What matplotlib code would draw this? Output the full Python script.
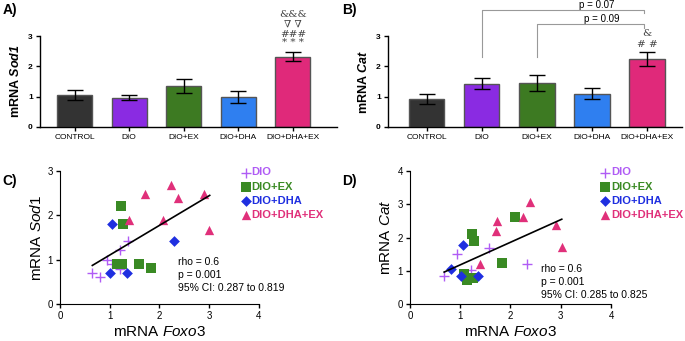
import matplotlib
matplotlib.use("Agg")
import matplotlib.pyplot as plt
import numpy as np

plt.rcParams['font.family'] = 'Liberation Sans'
plt.rcParams['mathtext.fontset'] = 'custom'
plt.rcParams['mathtext.rm'] = 'Liberation Sans'
plt.rcParams['mathtext.it'] = 'Liberation Sans:italic'
plt.rcParams['mathtext.bf'] = 'Liberation Sans:bold'
plt.rcParams['mathtext.bfit'] = 'Liberation Sans:bold:italic'

groups = ['CONTROL', 'DIO', 'DIO+EX', 'DIO+DHA', 'DIO+DHA+EX']
bar_colors = ['#333333', '#8a2be2', '#3d7a22', '#2f7ff0', '#e0297a']

sod1_mean = [1.05, 0.97, 1.35, 0.98, 2.32]
sod1_err = [0.17, 0.08, 0.23, 0.20, 0.14]
cat_mean = [0.92, 1.43, 1.45, 1.10, 2.23]
cat_err = [0.16, 0.19, 0.28, 0.17, 0.23]

# scatter data (Foxo3 vs Sod1)
c_dio_x = [0.65, 0.80, 0.95, 1.20, 1.36, 1.20, 1.05]
c_dio_y = [0.71, 0.61, 0.99, 1.22, 1.41, 0.80, 0.90]
c_ex_x = [1.23, 1.26, 1.14, 1.25, 1.58, 1.82]
c_ex_y = [2.21, 1.80, 0.90, 0.90, 0.90, 0.81]
c_dha_x = [1.04, 2.30, 1.01, 1.34]
c_dha_y = [1.80, 1.41, 0.71, 0.71]
c_dhaex_x = [1.71, 2.24, 2.38, 2.89, 1.38, 2.08, 3.00]
c_dhaex_y = [2.49, 2.69, 2.38, 2.49, 1.89, 1.89, 1.68]
c_fit_x = [0.65, 3.01]
c_fit_y = [0.87, 2.45]

# scatter data (Foxo3 vs Cat)
d_dio_x = [0.68, 0.93, 1.21, 1.58, 2.33]
d_dio_y = [0.83, 1.51, 1.03, 1.68, 1.20]
d_ex_x = [1.24, 1.28, 1.08, 1.14, 1.26, 1.83, 2.09]
d_ex_y = [2.10, 1.90, 0.90, 0.73, 0.78, 1.23, 2.61]
d_dha_x = [1.05, 0.81, 1.02, 1.35]
d_dha_y = [1.76, 1.06, 0.83, 0.85]
d_dhaex_x = [1.73, 1.72, 1.40, 2.25, 2.39, 2.91, 3.02]
d_dhaex_y = [2.50, 2.20, 1.21, 2.63, 3.06, 2.37, 1.71]
d_fit_x = [0.68, 3.02]
d_fit_y = [0.96, 2.55]

fig = plt.figure(figsize=(6.85, 3.41), dpi=100)


def bar_panel(ax, means, errs, ylabel, xlim):
    x = np.arange(len(groups))
    ax.bar(x, means, width=0.64, color=bar_colors, edgecolor='#555555', linewidth=1.0)
    ax.errorbar(x, means, yerr=errs, fmt='none', ecolor='black', elinewidth=1.0,
                capsize=6, capthick=1.0)
    ax.set_xlim(*xlim)
    ax.set_ylim(0, 3)
    ax.set_yticks([0, 1, 2, 3])
    ax.set_xticks(x)
    ax.set_xticklabels(groups, fontsize=6)
    for t in ax.get_yticklabels():
        t.set_fontsize(6)
        t.set_fontweight('bold')
    ax.tick_params(axis='both', length=3, width=1, pad=2)
    ax.spines['top'].set_visible(False)
    ax.spines['right'].set_visible(False)
    ax.spines['left'].set_linewidth(1)
    ax.spines['bottom'].set_linewidth(1)
    ax.set_ylabel(ylabel, fontsize=9, fontweight='bold', labelpad=4)


axA = fig.add_axes([0.058, 0.628, 0.434, 0.266])
bar_panel(axA, sod1_mean, sod1_err, r'mRNA $\mathbfit{Sod1}$', (-0.64, 4.81))
sig_font = dict(family='DejaVu Serif', fontsize=7.5, color='#444444', ha='center', va='center')
axA.text(4, 2.78, '* * *', clip_on=False, **sig_font)
axA.text(4, 3.06, '###', clip_on=False, **sig_font)
axA.text(4, 3.38, '\u2207 \u2207', clip_on=False, **sig_font)
axA.text(4, 3.72, '&&&', clip_on=False, **sig_font)

axB = fig.add_axes([0.566, 0.628, 0.43, 0.266])
bar_panel(axB, cat_mean, cat_err, r'mRNA $\mathbfit{Cat}$', (-0.71, 4.64))
axB.text(4, 2.72, '# #', clip_on=False, **sig_font)
axB.text(4, 3.08, '&', clip_on=False, **sig_font)
br = dict(color='#999999', lw=0.8, clip_on=False)
axB.plot([1, 1, 3.95, 3.95], [2.31, 3.86, 3.86, 3.76], **br)
axB.plot([2, 2, 3.95, 3.95], [2.31, 3.40, 3.40, 3.27], **br)
axB.text(3.09, 4.02, 'p = 0.07', fontsize=7, ha='center', va='center', clip_on=False)
axB.text(3.18, 3.56, 'p = 0.09', fontsize=7, ha='center', va='center', clip_on=False)

sc_cols = ['#b05cf5', '#3a8a24', '#1f2fe0', '#e0307a']
sc_labels = ['DIO', 'DIO+EX', 'DIO+DHA', 'DIO+DHA+EX']


def scatter_panel(ax, data, fit, ylabel, ymax, stats, stats_xy, leg_x):
    markers = ['+', 's', 'D', '^']
    sizes = [60, 45, 30, 45]
    for (xs, ys), m, c, s, lab in zip(data, markers, sc_cols, sizes, sc_labels):
        if m == '+':
            ax.scatter(xs, ys, marker=m, s=s, color=c, linewidths=1.0, label=lab, zorder=3)
        else:
            ax.scatter(xs, ys, marker=m, s=s, color=c, linewidths=0, label=lab, zorder=3)
    ax.plot(fit[0], fit[1], color='black', lw=1.2, zorder=4)
    ax.set_xlim(0, 4)
    ax.set_ylim(0, ymax)
    ax.set_xticks([0, 1, 2, 3, 4])
    ax.set_yticks(range(ymax + 1))
    ax.tick_params(axis='both', labelsize=7, length=3, width=1, pad=2)
    ax.spines['top'].set_visible(False)
    ax.spines['right'].set_visible(False)
    ax.set_xlabel(r'mRNA $\mathit{Foxo3}$', fontsize=11, labelpad=3)
    ax.set_ylabel(ylabel, fontsize=11, labelpad=3)
    ax.text(stats_xy[0], stats_xy[1], stats, fontsize=7.5, ha='left', va='top',
            linespacing=1.35)
    leg = ax.legend(loc='upper left', bbox_to_anchor=(leg_x, 1.06), frameon=False,
                    handletextpad=0.0, labelspacing=0.38, borderaxespad=0,
                    handlelength=1.1, prop={'weight': 'bold', 'size': 8})
    for t, c in zip(leg.get_texts(), sc_cols):
        t.set_color(c)


axC = fig.add_axes([0.0876, 0.1085, 0.2904, 0.39])
scatter_panel(axC,
              [(c_dio_x, c_dio_y), (c_ex_x, c_ex_y), (c_dha_x, c_dha_y), (c_dhaex_x, c_dhaex_y)],
              (c_fit_x, c_fit_y), r'mRNA $\mathit{Sod1}$', 3,
              'rho = 0.6\np = 0.001\n95% CI: 0.287 to 0.819', (2.38, 1.05), 0.88)

axD = fig.add_axes([0.5985, 0.1085, 0.2935, 0.39])
scatter_panel(axD,
              [(d_dio_x, d_dio_y), (d_ex_x, d_ex_y), (d_dha_x, d_dha_y), (d_dhaex_x, d_dhaex_y)],
              (d_fit_x, d_fit_y), r'mRNA $\mathit{Cat}$', 4,
              'rho = 0.6\np = 0.001\n95% CI: 0.285 to 0.825', (2.6, 1.2), 0.92)

for lab, x, y in [('A)', 0.004, 0.97), ('B)', 0.5, 0.97), ('C)', 0.004, 0.47), ('D)', 0.5, 0.47)]:
    fig.text(x, y, lab, fontsize=10, fontweight='bold', ha='left', va='center')

fig.savefig('out.png', dpi=100)
